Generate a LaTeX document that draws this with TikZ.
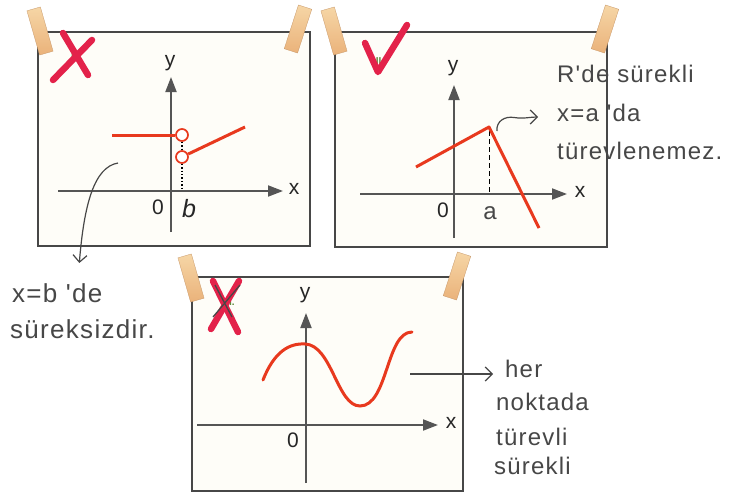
\documentclass[tikz,border=0pt]{standalone}
\usepackage{fontspec}
\setmainfont{Liberation Sans}
\newfontfamily\handfont[LetterSpace=5]{Liberation Sans}
\usetikzlibrary{arrows.meta}
\definecolor{redc}{HTML}{E8391E}
\definecolor{markred}{HTML}{E3224A}
\definecolor{axisgray}{HTML}{555555}
\definecolor{pencil}{HTML}{474747}
\definecolor{tapetop}{HTML}{F6D6A6}
\definecolor{tapebot}{HTML}{EAB27A}
\definecolor{paper}{HTML}{FEFDF8}
\definecolor{numgreen}{HTML}{5E8A3A}
\tikzset{
  panel/.style={draw=pencil, line width=1.1pt, fill=paper},
  tapebox/.style={minimum width=14pt, minimum height=46pt, inner sep=0pt,
    top color=tapetop, bottom color=tapebot, draw=tapebot!85!black, line width=0.3pt},
  axis/.style={draw=axisgray, line width=1.9pt, -{Triangle[length=15pt,width=11pt]}},
  axlabel/.style={font=\fontsize{21}{21}\selectfont, text=black!85, inner sep=1pt},
  graph/.style={draw=redc, line width=3pt},
  hole/.style={circle, draw=redc, line width=1.7pt, fill=white, minimum size=12pt, inner sep=0pt},
  hand/.style={font=\handfont\fontsize{26}{26}\selectfont, text=pencil, anchor=base west, inner sep=0pt},
  handsm/.style={font=\handfont\fontsize{24}{24}\selectfont, text=pencil, anchor=base west, inner sep=0pt},
  handarrow/.style={draw=pencil, line width=1.2pt, -{Straight Barb[length=7pt,width=14pt]}},
  markstroke/.style={draw=markred, line width=6.5pt, line cap=round, line join=round},
  numlabel/.style={font=\fontsize{10}{10}\selectfont\bfseries, text=numgreen, inner sep=0pt},
}
\begin{document}
\begin{tikzpicture}[x=1pt, y=-1pt]
\useasboundingbox[fill=white] (0,0) rectangle (744,495);

% ---------------- Panel 1 ----------------
\draw[panel] (38,32) rectangle (310,246);
\coordinate (x1s) at (58,191);  \coordinate (x1e) at (283,191);
\coordinate (y1s) at (171,232); \coordinate (y1e) at (171,77);
\coordinate (b1) at (182,191);
\draw[axis] (x1s) -- (x1e);
\draw[axis] (y1s) -- (y1e);
\node[axlabel] (x1lab) at (294,189) {x};
\node[axlabel] (y1lab) at (170,63) {y};
\node[axlabel] (o1lab) at (158,207) {0};
\node[axlabel, font=\fontsize{25}{25}\selectfont\itshape] (b1lab) at (189,209) {b};
\node[hole] (h1) at (182,135) {};
\node[hole] (h2) at (182,157) {};
\coordinate (p1a) at (112,135);
\coordinate (p1b) at (245,127);
\draw[dotted, line width=1.4pt] (h1) -- (h2);
\draw[dotted, line width=1.4pt] (h2) -- (b1);
\draw[graph] (p1a) -- (h1);
\draw[graph] (h2) -- (p1b);
\node[numlabel] (n1) at (74,56) {I.};
\draw[markstroke] (53,80) -- (92,40);
\draw[markstroke] (63,33) -- (88,75);
\node[tapebox, rotate=16] (t1a) at (40,31) {};
\node[tapebox, rotate=-18] (t1b) at (298,29) {};

% ---------------- Panel 2 ----------------
\draw[panel] (335,32) rectangle (607,247);
\coordinate (x2s) at (360,194);  \coordinate (x2e) at (567,194);
\coordinate (y2s) at (454,238);  \coordinate (y2e) at (454,85);
\coordinate (a2) at (489,194);
\draw[axis] (x2s) -- (x2e);
\draw[axis] (y2s) -- (y2e);
\node[axlabel] (x2lab) at (580,192) {x};
\node[axlabel] (y2lab) at (453,68) {y};
\node[axlabel] (o2lab) at (443,210) {0};
\node[handsm, anchor=base] (a2lab) at (490,219) {a};
\coordinate (p2a) at (416,167);
\coordinate (p2b) at (489,127);
\coordinate (p2c) at (539,228);
\draw[dashed, line width=0.7pt, dash pattern=on 5pt off 3pt] ([yshift=-4pt]p2b) -- (a2);
\draw[graph, line join=round] (p2a) -- (p2b) -- (p2c);
\node[numlabel] (n2) at (380,61) {II.};
\draw[markstroke] (365,43) -- (378,72) -- (407,25);
\node[tapebox, rotate=16] (t2a) at (334,31) {};
\node[tapebox, rotate=-18] (t2b) at (605,29) {};

% ---------------- Panel 3 ----------------
\draw[panel] (192,277) rectangle (463,491);
\coordinate (x3s) at (197,425);  \coordinate (x3e) at (438,425);
\coordinate (y3s) at (306,483);  \coordinate (y3e) at (306,313);
\draw[axis] (x3s) -- (x3e);
\draw[axis] (y3s) -- (y3e);
\node[axlabel] (x3lab) at (451,423) {x};
\node[axlabel] (y3lab) at (305,295) {y};
\node[axlabel] (o3lab) at (293,440) {0};
\draw[graph, line cap=round] (263,380) .. controls (274,352) and (289,343) .. (305,344)
  .. controls (332,345) and (337,406) .. (360,406)
  .. controls (388,406) and (386,332) .. (412,332);
\node[numlabel] (n3) at (229,302) {III.};
\draw[markstroke] (213,281) -- (238,332);
\draw[markstroke] (239,281) -- (211,329);
\draw[draw=pencil, line width=1.3pt] (215,285) -- (232,317);
\draw[draw=pencil, line width=1.3pt] (240,285) -- (213,317);
\node[tapebox, rotate=16] (t3a) at (191,278) {};
\node[tapebox, rotate=-18] (t3b) at (457,276) {};

% ---------------- Notes ----------------
\node[hand] (nb1) at (12,302) {x=b 'de};
\node[hand] (nb2) at (10,338) {süreksizdir.};
\coordinate (c1) at (118,163);
\draw[handarrow] (c1) .. controls (94,167) and (84,205) .. ([shift={(22pt,20pt)}]nb1.north);

\node[handsm] (na1) at (557,82) {R'de sürekli};
\node[handsm] (na2) at (557,121) {x=a 'da};
\node[handsm] (na3) at (557,159) {türevlenemez.};
\coordinate (c2) at (497,131);
\draw[handarrow] (c2) .. controls (496,121) and (505,116) .. (514,117.5)
  .. controls (524,119) and (530,117) .. ([shift={(-19pt,4pt)}]na2.base west);

\node[handsm] (nc1) at (505,377) {her};
\node[handsm] (nc2) at (496,410) {noktada};
\node[handsm] (nc3) at (496,445) {türevli};
\node[handsm] (nc4) at (494,474) {sürekli};
\coordinate (c3) at (410,374);
\draw[handarrow] (c3) -- ([shift={(-12pt,3pt)}]nc1.base west);
\end{tikzpicture}
\end{document}
